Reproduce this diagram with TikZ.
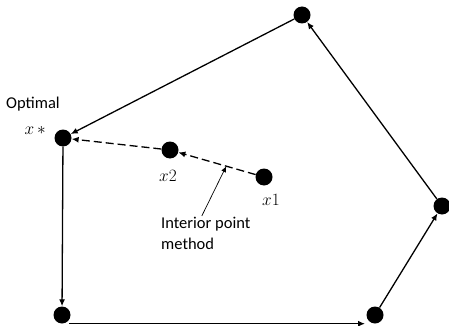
\documentclass[tikz,border=0pt]{standalone}
\usepackage{fontspec}
\setmainfont{Carlito}
\usepackage{tikz}
\usetikzlibrary{positioning,arrows.meta}
\tikzset{
  dot/.style={circle,fill=black,inner sep=0pt,minimum size=17pt},
  lbl/.style={font=\fontsize{16.5}{21}\selectfont,align=left,inner sep=0pt},
  mlbl/.style={font=\fontsize{17}{18}\selectfont,inner sep=0pt},
  edge/.style={-{Latex[length=7pt,width=6pt]},line width=1.3pt},
  ipath/.style={-{Latex[length=7pt,width=6pt]},line width=1.3pt,dash pattern=on 8pt off 4pt},
  pointer/.style={-{Latex[length=6pt,width=5pt]},line width=0.7pt}}
\begin{document}
\begin{tikzpicture}[x=1pt,y=1pt]
  \useasboundingbox (0,0) rectangle (449,-326);
  % vertices of the feasible region
  \node[dot] (vtop)   at (302,-15)  {};
  \node[dot] (vopt)   at (63,-138)  {};
  \node[dot] (vbl)    at (62,-315)  {};
  \node[dot] (vbr)    at (375,-315) {};
  \node[dot] (vright) at (442,-206) {};
  % interior iterates
  \node[dot] (px2) at (170,-150) {};
  \node[dot] (px1) at (264,-177) {};
  % labels
  \node[lbl,anchor=west] (topt) at (6,-104) {Optimal};
  \node[mlbl,anchor=east] (lopt) at (46,-130) {$x\,*$};
  \node[mlbl] (lx2) at (168,-176) {$x2$};
  \node[mlbl] (lx1) at (271,-200) {$x1$};
  \node[lbl,anchor=north west] (ipm) at (161,-217) {Interior point\\method};
  % simplex path along the edges
  \draw[edge] (vtop) -- (vopt);
  \draw[edge] (vopt) -- (vbl);
  \draw[edge] ([xshift=7pt]vbl.south) -- ([xshift=-10pt]vbr.south);
  \draw[edge] (vbr) -- (vright);
  \draw[edge] (vright) -- (vtop);
  % interior point path
  \draw[ipath] (px1) -- (px2);
  \draw[ipath] (px2) -- (vopt);
  \path (px1) -- (px2) coordinate[pos=0.38] (hit);
  \draw[pointer] ([xshift=-4pt,yshift=1pt]ipm.north) -- (hit);
\end{tikzpicture}
\end{document}
